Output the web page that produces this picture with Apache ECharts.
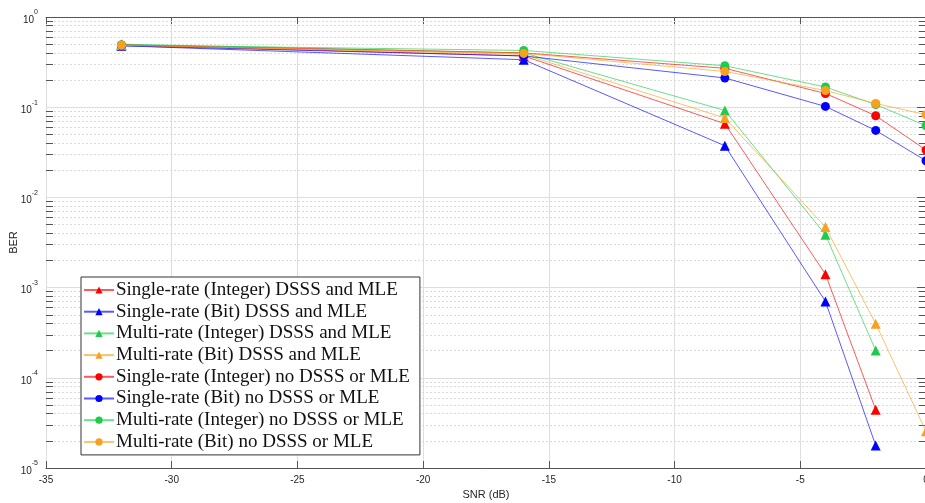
<!DOCTYPE html>
<html>
<head>
<meta charset="utf-8">
<script src="https://cdn.jsdelivr.net/npm/echarts@6/dist/echarts.min.js"></script>
<style>
  html, body { margin: 0; padding: 0; background: #fff; }
  #chart { width: 925px; height: 503px; }
</style>
</head>
<body>
<div id="chart"></div>
<script>
// SNR points (dB)
var snr = [-32, -16, -8, -4, -2, 0];

// BER per scheme, '-' = nothing plotted (zero error)
var srIntDsss = [0.49, 0.37, 0.0656, 0.00141, 4.43e-5, '-'];
var srBitDsss = [0.48, 0.336, 0.0374, 7.03e-4, 1.78e-5, '-'];
var mrIntDsss = [0.50, 0.40, 0.092, 0.00386, 2.01e-4, '-'];
var mrBitDsss = [0.49, 0.385, 0.076, 0.0047, 3.98e-4, 2.55e-5];
var srIntPlain = [0.49, 0.40, 0.27, 0.142, 0.0805, 0.0335];
var srBitPlain = [0.48, 0.37, 0.211, 0.102, 0.0553, 0.0255];
var mrIntPlain = [0.49, 0.426, 0.288, 0.1675, 0.107, 0.0623];
var mrBitPlain = [0.485, 0.395, 0.249, 0.153, 0.110, 0.0826];

var seriesNames = [
    'Single-rate (Integer) DSSS and MLE',
    'Single-rate (Bit) DSSS and MLE',
    'Multi-rate (Integer) DSSS and MLE',
    'Multi-rate (Bit) DSSS and MLE',
    'Single-rate (Integer) no DSSS or MLE',
    'Single-rate (Bit) no DSSS or MLE',
    'Multi-rate (Integer) no DSSS or MLE',
    'Multi-rate (Bit) no DSSS or MLE'
];
var seriesValues = [srIntDsss, srBitDsss, mrIntDsss, mrBitDsss, srIntPlain, srBitPlain, mrIntPlain, mrBitPlain];
var seriesColors = ['#ff0000', '#0000ff', '#1ecc4c', '#f7a11f', '#ff0000', '#0000ff', '#1ecc4c', '#f7a11f'];

var chart = echarts.init(document.getElementById('chart'));

function pairs(vals) {
    var out = [];
    for (var i = 0; i < snr.length; i++) {
        out.push([snr[i], vals[i]]);
    }
    return out;
}

// minor log grid lines (2..9 x 10^e) and the short ticks on the left/right edges
var minorLines = [];
var minorTicks = [];
for (var e = -5; e < 0; e++) {
    for (var k = 2; k <= 9; k++) {
        var v = k * Math.pow(10, e);
        minorLines.push([{ coord: [-35, v] }, { coord: [0, v] }]);
        minorTicks.push([{ coord: [-35, v] }, { coord: [-34.72, v] }]);
        minorTicks.push([{ coord: [0, v] }, { coord: [-0.28, v] }]);
    }
}

var series = [];
for (var i = 0; i < seriesNames.length; i++) {
    var tri = i < 4;
    series.push({
        name: seriesNames[i],
        type: 'line',
        data: pairs(seriesValues[i]),
        symbol: tri ? 'triangle' : 'circle',
        symbolSize: tri ? 10 : 9,
        showAllSymbol: true,
        connectNulls: false,
        clip: false,
        z: 10 + i,
        itemStyle: { color: seriesColors[i] },
        lineStyle: { color: seriesColors[i], width: 1, opacity: 0.65 }
    });
}

// helper series carrying the minor grid (its own line is invisible, it only spans the axes)
series.push({
    name: 'grid',
    type: 'line',
    data: [[-35, 1e-5], [0, 1]],
    symbol: 'none',
    silent: true,
    lineStyle: { opacity: 0 },
    z: 1,
    markLine: {
        silent: true,
        symbol: 'none',
        label: { show: false },
        animation: false,
        lineStyle: { color: '#dadada', type: [2, 2], width: 1 },
        data: minorLines
    }
});
series.push({
    name: 'ticks',
    type: 'line',
    data: [[-35, 1e-5], [0, 1]],
    symbol: 'none',
    silent: true,
    lineStyle: { opacity: 0 },
    z: 2,
    markLine: {
        silent: true,
        symbol: 'none',
        label: { show: false },
        animation: false,
        lineStyle: { color: '#555', type: 'solid', width: 1 },
        data: minorTicks
    }
});

var tickFont = { color: '#262626', fontSize: 10, fontFamily: 'Liberation Sans, Arial, sans-serif' };

var option = {
    animation: false,
    backgroundColor: '#fff',
    grid: { left: 46, top: 17, right: -1, bottom: 35, containLabel: false, outerBoundsMode: 'none' },
    legend: {
        data: seriesNames,
        orient: 'vertical',
        left: 81,
        top: 277,
        z: 100,
        itemWidth: 30,
        itemHeight: 9,
        itemGap: 1.7,
        padding: [3, 10, 3, 2],
        backgroundColor: '#fff',
        borderColor: '#333',
        borderWidth: 1,
        textStyle: {
            color: '#111',
            fontSize: 19,
            lineHeight: 20,
            fontFamily: 'Liberation Serif, Times New Roman, serif',
            padding: [0, 0, 0, -3]
        }
    },
    xAxis: [{
        type: 'value',
        min: -35,
        max: 0,
        interval: 5,
        name: 'SNR (dB)',
        nameLocation: 'middle',
        nameGap: 21,
        nameMoveOverlap: false,
        nameTextStyle: { color: '#262626', fontSize: 11, fontFamily: 'Liberation Sans, Arial, sans-serif' },
        axisLine: { lineStyle: { color: '#555' } },
        axisTick: { inside: true, length: 7, lineStyle: { color: '#555' } },
        axisLabel: Object.assign({ margin: 7 }, tickFont),
        splitLine: { show: true, lineStyle: { color: '#dedede' } }
    }, {
        type: 'value',
        position: 'top',
        min: -35,
        max: 0,
        interval: 5,
        axisLine: { show: true, lineStyle: { color: '#555' } },
        axisTick: { inside: true, length: 7, lineStyle: { color: '#555' } },
        axisLabel: { show: false },
        splitLine: { show: false }
    }],
    yAxis: [{
        type: 'log',
        logBase: 10,
        min: 1e-5,
        max: 1,
        name: 'BER',
        nameLocation: 'middle',
        nameGap: 27,
        nameMoveOverlap: false,
        nameTextStyle: { color: '#262626', fontSize: 11, fontFamily: 'Liberation Sans, Arial, sans-serif' },
        axisLine: { show: true, lineStyle: { color: '#555' } },
        axisTick: { show: true, inside: true, length: 9, lineStyle: { color: '#555' } },
        axisLabel: {
            margin: 8,
            formatter: function (v) {
                var ex = Math.round(Math.log10(v));
                return '{b|10}{s|' + ex + '}';
            },
            rich: {
                b: { color: '#262626', fontSize: 10, fontFamily: 'Liberation Sans, Arial, sans-serif', verticalAlign: 'bottom', padding: [6, 0, 0, 0] },
                s: { color: '#262626', fontSize: 7, fontFamily: 'Liberation Sans, Arial, sans-serif', verticalAlign: 'top', padding: [0, 0, 6, 0] }
            }
        },
        splitLine: { show: true, lineStyle: { color: '#dedede' } }
    }, {
        type: 'log',
        logBase: 10,
        min: 1e-5,
        max: 1,
        position: 'right',
        axisLine: { show: true, lineStyle: { color: '#555' } },
        axisTick: { show: true, inside: true, length: 9, lineStyle: { color: '#555' } },
        axisLabel: { show: false },
        splitLine: { show: false }
    }],
    series: series
};

chart.setOption(option);
</script>
</body>
</html>
